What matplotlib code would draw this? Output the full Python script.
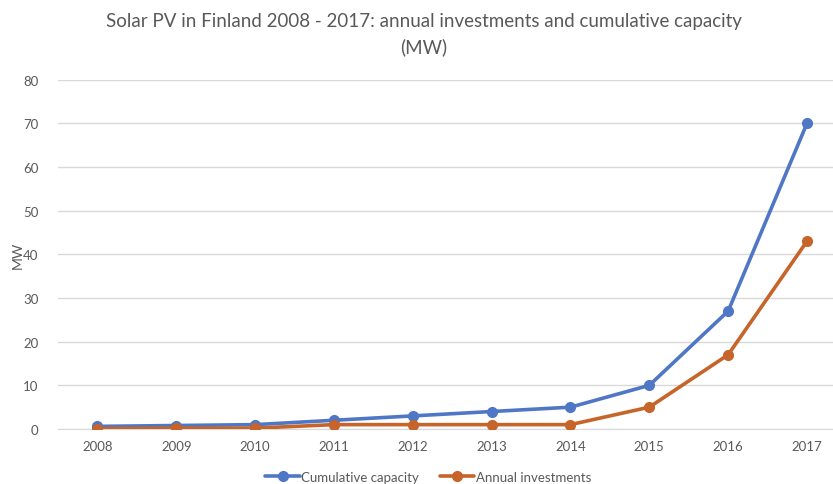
import matplotlib.pyplot as plt

years = ['2008', '2009', '2010', '2011', '2012', '2013', '2014', '2015', '2016', '2017']
cumulative = [0.6, 0.8, 1.0, 2, 3, 4, 5, 10, 27, 70]
annual = [0.1, 0.2, 0.2, 1, 1, 1, 1, 5, 17, 43]

plt.rcParams['font.family'] = ['Lato', 'DejaVu Sans']
grey = '#595959'

fig = plt.figure(figsize=(8.33, 4.85), dpi=100)
ax = fig.add_axes([58/833, 1 - 430/485, 1 - 58/833, (430 - 80.7)/485])

x = range(len(years))
ax.plot(x, cumulative, color='#4F77C6', lw=2.6, marker='o', ms=7, label='Cumulative capacity',
        solid_capstyle='round', zorder=3)
ax.plot(x, annual, color='#C6642A', lw=2.6, marker='o', ms=7, label='Annual investments',
        solid_capstyle='round', zorder=3)

ax.set_xlim(-0.5, 9.33)
ax.set_ylim(0, 80)
ax.set_yticks(range(0, 81, 10))
ax.set_xticks(list(x))
ax.set_xticklabels(years)
ax.yaxis.grid(True, color='#d9d9d9', lw=1)
ax.set_axisbelow(True)
for s in ['top', 'right', 'left']:
    ax.spines[s].set_visible(False)
ax.spines['bottom'].set_color('#d9d9d9')
ax.tick_params(axis='both', length=0, labelsize=9.5, colors=grey, pad=8)
ax.tick_params(axis='y', pad=14)

fig.text(18/833, 1 - 255/485, 'MW', rotation=90, ha='center', va='center',
         fontsize=10, color=grey)

fig.text(424/833, 1 - 13/485, 'Solar PV in Finland 2008 - 2017: annual investments and cumulative capacity\n(MW)',
         ha='center', va='top', fontsize=13.5, color=grey, linespacing=1.55)

fig.legend(loc='center', bbox_to_anchor=(0.514, 1 - 478/485), ncol=2, frameon=False,
           fontsize=9.5, labelcolor=grey, handlelength=2.6, handletextpad=0.1,
           columnspacing=1.6)

fig.savefig('out.png', dpi=100)
